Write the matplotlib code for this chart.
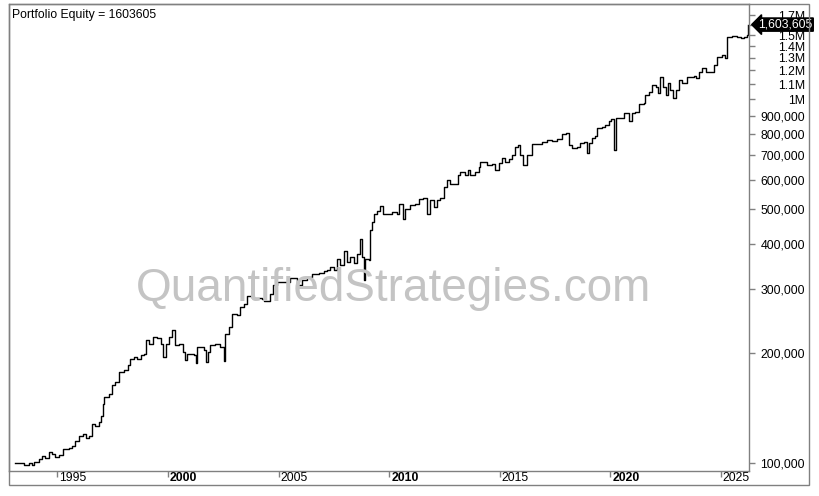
import numpy as np
import matplotlib
matplotlib.use('Agg')
import matplotlib.pyplot as plt
from matplotlib.patches import Rectangle
from matplotlib.ticker import FixedLocator, NullLocator, FuncFormatter
from matplotlib.transforms import blended_transform_factory, offset_copy

plt.rcParams['font.family'] = ['Liberation Sans', 'DejaVu Sans']

# equity curve (decimal year, portfolio equity)
years = [1993.09, 1993.27, 1993.49, 1993.72, 1993.84, 1993.95, 1994.17, 1994.32, 1994.44, 1994.62,
         1994.77, 1994.90, 1995.08, 1995.26, 1995.53, 1995.68, 1995.80, 1995.98, 1996.16, 1996.29,
         1996.43, 1996.56, 1996.71, 1996.86, 1996.96, 1997.04, 1997.11, 1997.34, 1997.49, 1997.61,
         1997.79, 1998.02, 1998.17, 1998.28, 1998.47, 1998.62, 1998.77, 1998.92, 1999.00, 1999.15,
         1999.33, 1999.52, 1999.68, 1999.78, 1999.90, 2000.05, 2000.20, 2000.33, 2000.51, 2000.66,
         2000.78, 2000.88, 2001.19, 2001.26, 2001.33, 2001.53, 2001.64, 2001.72, 2001.83, 2001.91,
         2002.14, 2002.36, 2002.51, 2002.59, 2002.74, 2002.89, 2003.12, 2003.24, 2003.42, 2003.57,
         2003.80, 2004.02, 2004.25, 2004.35, 2004.62, 2004.77, 2004.93, 2005.53, 2005.83, 2006.06,
         2006.29, 2006.51, 2006.81, 2007.04, 2007.19, 2007.34, 2007.52, 2007.64, 2007.79, 2007.94,
         2008.10, 2008.24, 2008.43, 2008.55, 2008.67, 2008.77, 2008.85, 2008.92, 2009.07, 2009.15,
         2009.23, 2009.30, 2009.45, 2009.60, 2009.72, 2009.90, 2010.13, 2010.36, 2010.43, 2010.61,
         2010.73, 2010.96, 2011.19, 2011.33, 2011.53, 2011.71, 2011.83, 2012.01, 2012.17, 2012.32,
         2012.47, 2012.62, 2012.77, 2012.95, 2013.10, 2013.22, 2013.45, 2013.55, 2013.67, 2013.90,
         2014.05, 2014.13, 2014.43, 2014.66, 2014.81, 2014.95, 2015.11, 2015.26, 2015.41, 2015.56,
         2015.71, 2015.81, 2015.94, 2016.06, 2016.24, 2016.47, 2016.69, 2016.92, 2017.15, 2017.37,
         2017.60, 2017.82, 2018.00, 2018.12, 2018.28, 2018.50, 2018.62, 2018.80, 2018.95, 2019.03,
         2019.18, 2019.33, 2019.41, 2019.63, 2019.78, 2019.93, 2020.04, 2020.16, 2020.24, 2020.46,
         2020.61, 2020.84, 2020.99, 2021.14, 2021.29, 2021.52, 2021.59, 2021.74, 2021.90, 2022.05,
         2022.15, 2022.27, 2022.39, 2022.50, 2022.60, 2022.72, 2022.85, 2022.95, 2023.10, 2023.25,
         2023.48, 2023.78, 2023.86, 2024.00, 2024.16, 2024.31, 2024.53, 2024.68, 2024.84, 2025.06,
         2025.17, 2025.26, 2025.29, 2025.52, 2025.74, 2025.89, 2026.07, 2026.20, 2026.24]
equity = [100000, 99600, 98700, 99600, 98500, 100200, 102400, 104500, 103200, 106800,
          105700, 103900, 105000, 109100, 109500, 111400, 114500, 118700, 120000, 117000,
          118700, 127800, 126400, 129100, 134700, 145100, 152000, 154600, 163000, 166400,
          177400, 179300, 185100, 193100, 195000, 193100, 197200, 199300, 216800, 211400,
          221400, 220500, 212300, 195000, 212300, 221400, 231000, 210100, 212300, 201300,
          191900, 199300, 198100, 187800, 207800, 207800, 203500, 188900, 201300, 210100,
          211400, 207800, 190100, 226200, 235900, 256900, 254100, 267800, 273700, 286700,
          283600, 284300, 282500, 277700, 291600, 307400, 313900, 322800, 308800, 317200,
          324000, 331100, 333200, 336000, 338100, 345200, 338100, 364100, 348900, 382100,
          356300, 367800, 354000, 375800, 413300, 367800, 318600, 364100, 360200, 435500,
          459200, 484300, 492400, 507300, 484300, 482200, 489200, 484300, 516100, 469300,
          499900, 510500, 516100, 532700, 536100, 484300, 527000, 505100, 527000, 536100,
          573400, 598300, 585900, 583200, 617500, 630600, 617500, 637500, 617500, 630600,
          651000, 672000, 658100, 662200, 637500, 667700, 686600, 672000, 682300, 701200,
          739100, 747100, 701200, 658100, 701200, 750400, 751000, 759900, 770900, 768000,
          774400, 800900, 804400, 747100, 731600, 739100, 755100, 762800, 708700, 755100,
          779300, 790900, 830700, 839100, 848200, 869900, 881000, 723700, 884900, 888300,
          913400, 869900, 913400, 922600, 967000, 973200, 1025700, 1047400, 1093000, 1081200,
          1036800, 1151900, 1081200, 1025700, 1104800, 1058800, 1004500, 1058800, 1128000, 1104800,
          1151900, 1157200, 1140300, 1189000, 1215000, 1189000, 1189000, 1240700, 1307900, 1322100,
          1294600, 1393300, 1484300, 1494000, 1484300, 1469400, 1484300, 1500600, 1603605]

year_ticks = [1995, 2000, 2005, 2010, 2015, 2020, 2025]
bold_years = [2000, 2010, 2020]
equity_ticks = [100000, 200000, 300000, 400000, 500000, 600000, 700000, 800000, 900000,
                1000000, 1100000, 1200000, 1300000, 1400000, 1500000, 1600000, 1700000]
hidden_ticks = [1600000]  # sits under the last-value marker
last_value = 1603605

W, H = 819, 496
fig = plt.figure(figsize=(W / 100, H / 100), dpi=100)
ax = fig.add_axes([9 / W, 1 - 470.7 / H, (748.7 - 9) / W, (470.7 - 4) / H])

ax.plot(years, equity, color='black', linewidth=1.0, drawstyle='steps-post', zorder=2)

ax.set_yscale('log')
ax.set_xlim(1992.81, 2026.26)
ax.set_ylim(95000, 1827000)

edge = '#808080'
for s in ax.spines.values():
    s.set_color(edge)
    s.set_linewidth(1.0)


def fmt(v, p):
    if v in hidden_ticks:
        return ''
    if v >= 1e6:
        return '%gM' % (v / 1e6)
    return '{:,.0f}'.format(v)


# right-hand value axis
ax.yaxis.tick_right()
ax.yaxis.set_major_locator(FixedLocator(equity_ticks))
ax.yaxis.set_minor_locator(NullLocator())
ax.yaxis.set_major_formatter(FuncFormatter(fmt))
ax.tick_params(axis='y', which='major', direction='out', length=4, width=1, color=edge,
               labelsize=8.8, pad=36.5, labelcolor='black')
for lab in ax.get_yticklabels():
    lab.set_horizontalalignment('right')

# bottom date axis: small ticks below the line, labels to the right of each tick
ax.set_xticks(year_ticks)
ax.set_xticklabels([])
ax.tick_params(axis='x', direction='out', length=4, width=1, color=edge)
trans = offset_copy(blended_transform_factory(ax.transData, ax.transAxes), fig=fig, x=2, y=-7.5, units='dots')
for yr in year_ticks:
    ax.text(yr, 0, str(yr), transform=trans, ha='left', va='center', fontsize=8.8,
            fontweight='bold' if yr in bold_years else 'normal', clip_on=False)

# outer frame
fig.patches.append(Rectangle((9 / W, 1 - 485 / H), (808.7 - 9) / W, (485 - 4) / H,
                             transform=fig.transFigure, fill=False, edgecolor=edge, linewidth=1.0))

ax.text(0.004, 0.99, 'Portfolio Equity = %d' % last_value, transform=ax.transAxes,
        ha='left', va='top', fontsize=8.8)

ax.text(0.52, 0.39, 'QuantifiedStrategies.com', transform=ax.transAxes, ha='center', va='center',
        fontsize=33, color='#c4c4c4', zorder=3)

# last value marker
ax.annotate('{:,}'.format(last_value), xy=(1.0, last_value), xycoords=('axes fraction', 'data'),
            xytext=(7, 0), textcoords='offset points', ha='left', va='center', fontsize=8.8,
            color='white', annotation_clip=False, zorder=5,
            bbox=dict(boxstyle='larrow,pad=0.05', fc='black', ec='black'))

fig.savefig('out.png', dpi=100)
